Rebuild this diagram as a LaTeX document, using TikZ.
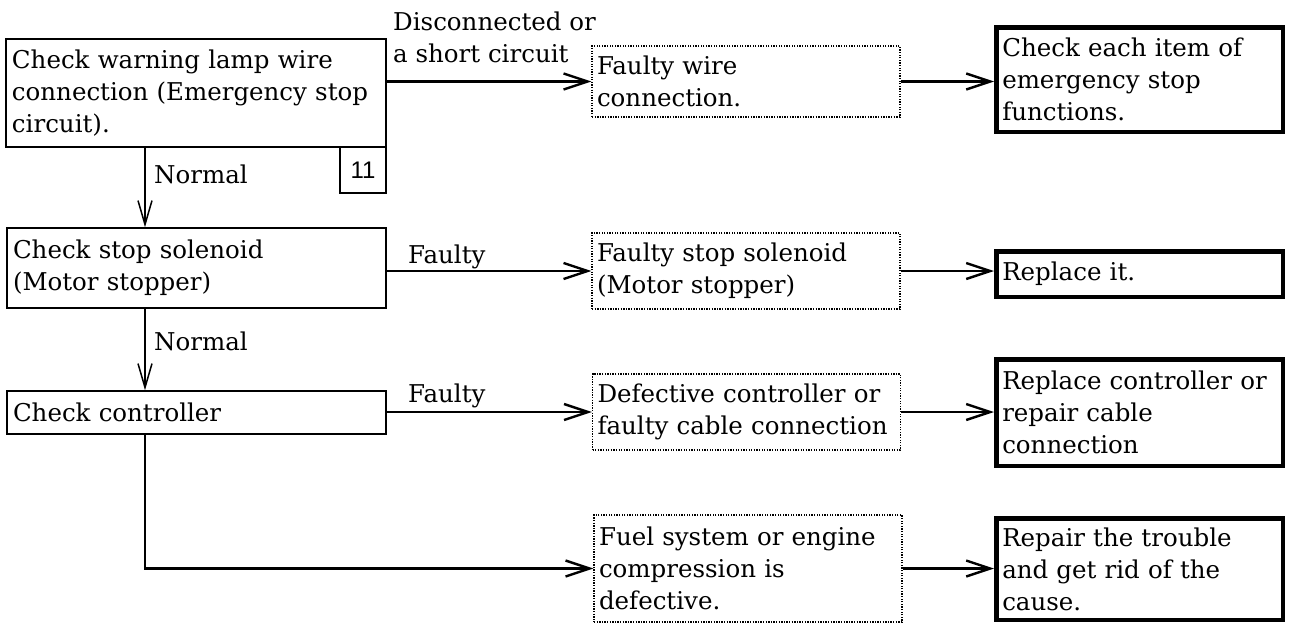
\documentclass[tikz,border=0pt]{standalone}
\usepackage{fontspec}
\setmainfont{DejaVu Serif}
\newfontfamily\numfont{Liberation Sans}
\usetikzlibrary{arrows.meta}
\begin{document}
\begin{tikzpicture}[x=1pt,y=-1pt,
  font=\fontsize{24.5}{32}\selectfont,
  plainbox/.style={draw, line width=1.5pt, rectangle, inner xsep=6pt, inner ysep=0pt, align=left},
  dotbox/.style={draw, line width=1.3pt, dash pattern=on 1.3pt off 1.3pt, rectangle, inner xsep=5pt, inner ysep=0pt, align=left, minimum width=308pt, text width=298pt},
  thickbox/.style={draw, line width=4.5pt, rectangle, inner xsep=6pt, inner ysep=0pt, align=left, minimum width=286.5pt, text width=274.5pt},
  lbl/.style={anchor=base west, inner sep=0pt},
  conn/.style={line width=2.4pt, -{Straight Barb[length=24pt,width=16pt]}},
  vconn/.style={line width=1.5pt, -{Straight Barb[length=24pt,width=14pt]}}
]
\useasboundingbox (0,0) rectangle (1289,624);

% left column
\node[plainbox, minimum width=380pt, minimum height=108pt, text width=368pt] (A) at (196,93)
  {Check warning lamp wire\\connection (Emergency stop\\circuit).};
\node[draw, line width=1.2pt, minimum width=46pt, minimum height=46pt, inner sep=0pt, font=\numfont\fontsize{24}{28}\selectfont] (n11) at (363,170) {11};
\node[plainbox, minimum width=379pt, minimum height=80pt, text width=367pt] (B) at (196.5,268)
  {Check stop solenoid\\(Motor stopper)};
\node[plainbox, minimum width=379pt, minimum height=43pt, text width=367pt] (C) at (196.5,412.5)
  {Check controller};

% middle column (dotted)
\node[dotbox, minimum height=71pt] (D1) at (746,81.5) {Faulty wire\\connection.};
\node[dotbox, minimum height=76pt] (D2) at (746,271) {Faulty stop solenoid\\(Motor stopper)};
\node[dotbox, minimum height=76pt] (D3) at (746.5,412) {Defective controller or\\faulty cable connection};
\node[dotbox, minimum height=107pt] (D4) at (748,568.5) {Fuel system or engine\\compression is\\defective.};

% right column (thick)
\node[thickbox, minimum height=104.5pt] (T1) at (1139.5,79.5) {Check each item of\\emergency stop\\functions.};
\node[thickbox, minimum height=45.5pt] (T2) at (1139.5,274) {Replace it.};
\node[thickbox, minimum height=106.5pt] (T3) at (1139.5,412.5) {Replace controller or\\repair cable\\connection};
\node[thickbox, minimum height=101.5pt] (T4) at (1139.5,569) {Repair the trouble\\and get rid of the\\cause.};

% labels
\node[lbl] (l1) at (393,30) {Disconnected or};
\node[lbl] (l2) at (393,62) {a short circuit};
\node[lbl] (n1) at (154,183) {Normal};
\node[lbl] (n2) at (154,350) {Normal};
\node[lbl] (f1) at (408,263) {Faulty};
\node[lbl] (f2) at (408,402) {Faulty};

% connectors
\coordinate (vx) at (145,0);
\draw[conn] (A.east |- D1.west) -- (D1.west);
\draw[conn] (B.east |- D2.west) -- (D2.west);
\draw[conn] (C.east |- D3.west) -- (D3.west);
\draw[conn] (C.south -| vx) |- (D4.west);
\draw[vconn] (A.south -| vx) -- (B.north -| vx);
\draw[vconn] (B.south -| vx) -- (C.north -| vx);
\draw[conn] (D1.east) -- (D1.east -| T1.west);
\draw[conn] (D2.east) -- (D2.east -| T2.west);
\draw[conn] (D3.east) -- (D3.east -| T3.west);
\draw[conn] (D4.east) -- (D4.east -| T4.west);
\end{tikzpicture}
\end{document}
